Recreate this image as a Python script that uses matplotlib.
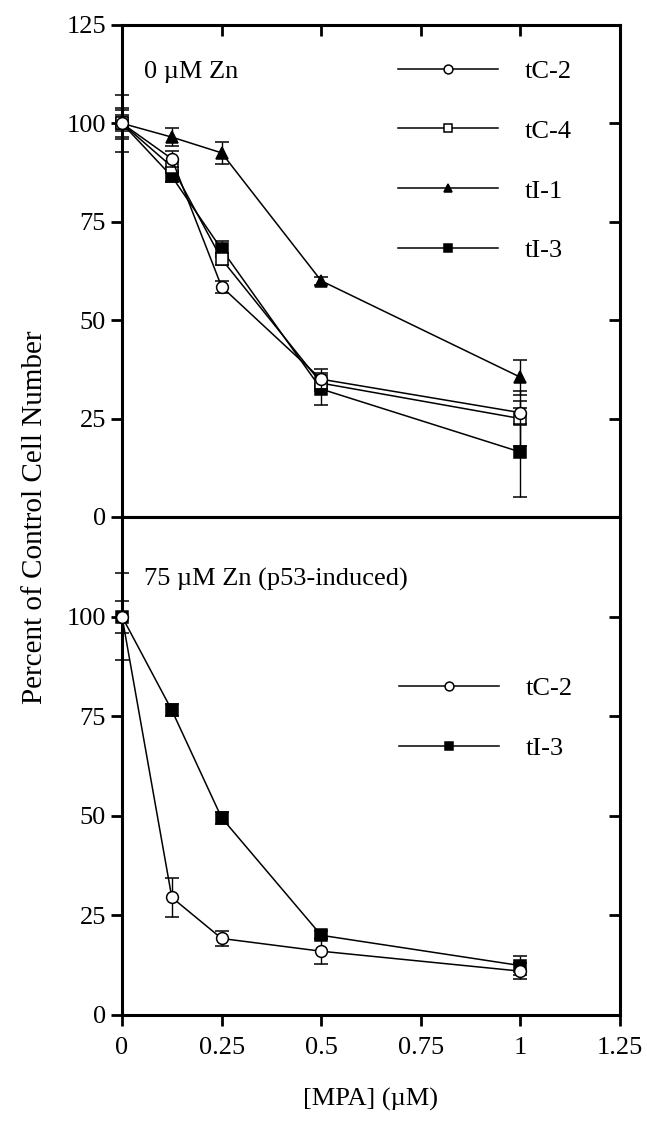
import numpy as np
import matplotlib
matplotlib.use("Agg")
import matplotlib.pyplot as plt
from matplotlib import lines as mlines

plt.rcParams['font.family'] = ['Liberation Serif', 'DejaVu Serif']
plt.rcParams['font.size'] = 19

# MPA concentrations (uM)
mpa = [0, 0.125, 0.25, 0.5, 1.0]

# top panel: 0 uM Zn
tc2_0 = [100, 91, 58.5, 35, 26.5]
tc2_0_err = [3.5, 2, 1.5, 2.5, 3]
tc4_0 = [100, 89, 65.5, 34, 25]
tc4_0_err = [7.3, 1.5, 1.5, 2, 7]
ti1_0 = [100, 96.5, 92.5, 60, 35.5]
ti1_0_err = [2, 2.3, 2.7, 1, 4.5]
ti3_0 = [100, 86.5, 68, 32.5, 16.5]
ti3_0_err = [4, 1.5, 2, 4, 11.3]

# bottom panel: 75 uM Zn (p53-induced)
tc2_75 = [100, 29.5, 19.2, 16, 11]
tc2_75_err = [11, 5, 2, 3.2, 2]
ti3_75 = [100, 76.5, 49.5, 20, 12.4]
ti3_75_err = [4, 1.5, 1.5, 1, 2.3]

x_ticks = [0, 0.25, 0.5, 0.75, 1, 1.25]
x_ticklabels = ['0', '0.25', '0.5', '0.75', '1', '1.25']

styles = {
    'tC-2': dict(marker='o', mfc='white', ms=8.5),
    'tC-4': dict(marker='s', mfc='white', ms=8),
    'tI-1': dict(marker='^', mfc='black', ms=8),
    'tI-3': dict(marker='s', mfc='black', ms=8),
}


def draw(ax, y, err, name, z):
    st = styles[name]
    c = ax.errorbar(mpa, y, yerr=err, color='black', lw=1.1, elinewidth=1.0,
                    capsize=5, capthick=1.0, marker=st['marker'], ms=st['ms'],
                    mfc=st['mfc'], mec='black', mew=1.1, label=name,
                    clip_on=False, zorder=z)
    return c.lines[0]


def style_axes(ax):
    for s in ax.spines.values():
        s.set_linewidth(2.2)
    ax.set_xlim(0, 1.25)
    ax.set_ylim(0, 125)
    ax.set_xticks(x_ticks)
    ax.tick_params(axis='both', length=8, width=2)
    ax.yaxis.set_ticks_position('both')


fig = plt.figure(figsize=(6.47, 11.29), dpi=100)
ax1 = fig.add_axes([0.1886, 0.5421, 0.7696, 0.4358])
ax2 = fig.add_axes([0.1886, 0.1010, 0.7696, 0.4411])

# top panel
handles1 = [
    draw(ax1, tc2_0, tc2_0_err, 'tC-2', 6),
    draw(ax1, tc4_0, tc4_0_err, 'tC-4', 5),
    draw(ax1, ti1_0, ti1_0_err, 'tI-1', 4),
    draw(ax1, ti3_0, ti3_0_err, 'tI-3', 3),
]
style_axes(ax1)
ax1.set_yticks([0, 25, 50, 75, 100, 125])
ax1.tick_params(axis='x', top=True, bottom=True, labelbottom=False)
ax1.text(0.045, 0.905, '0 \u00b5M Zn', transform=ax1.transAxes, va='center', ha='left')
ax1.legend(handles1, ['tC-2', 'tC-4', 'tI-1', 'tI-3'], loc='upper left',
           bbox_to_anchor=(0.528, 0.957), frameon=False, handlelength=3.8,
           handletextpad=1.0, labelspacing=1.38, borderpad=0, markerscale=0.75)

# bottom panel
h_ti3 = draw(ax2, ti3_75, ti3_75_err, 'tI-3', 3)
h_tc2 = draw(ax2, tc2_75, tc2_75_err, 'tC-2', 4)
style_axes(ax2)
ax2.set_yticks([0, 25, 50, 75, 100])
ax2.set_xticklabels(x_ticklabels)
ax2.tick_params(axis='x', top=False, bottom=True, direction='out', pad=8)
ax2.text(0.045, 0.875, '75 \u00b5M Zn (p53-induced)', transform=ax2.transAxes,
         va='center', ha='left')
ax2.legend([h_tc2, h_ti3], ['tC-2', 'tI-3'], loc='upper left',
           bbox_to_anchor=(0.53, 0.706), frameon=False, handlelength=3.8,
           handletextpad=1.0, labelspacing=1.38, borderpad=0, markerscale=0.75)

# left ticks outward, right ticks inward
for ax in (ax1, ax2):
    for t in ax.yaxis.get_major_ticks():
        t.tick1line.set_marker(mlines.TICKLEFT)
        t.tick2line.set_marker(mlines.TICKLEFT)

# top panel x ticks: top inward, bottom outward
for t in ax1.xaxis.get_major_ticks():
    t.tick1line.set_marker(mlines.TICKDOWN)
    t.tick2line.set_marker(mlines.TICKDOWN)

fig.text(0.054, 0.542, 'Percent of Control Cell Number', rotation=90,
         ha='center', va='center', fontsize=21)
fig.text(0.572, 0.026, '[MPA] (\u00b5M)', ha='center', va='center', fontsize=19)

fig.savefig('out.png', dpi=100)
